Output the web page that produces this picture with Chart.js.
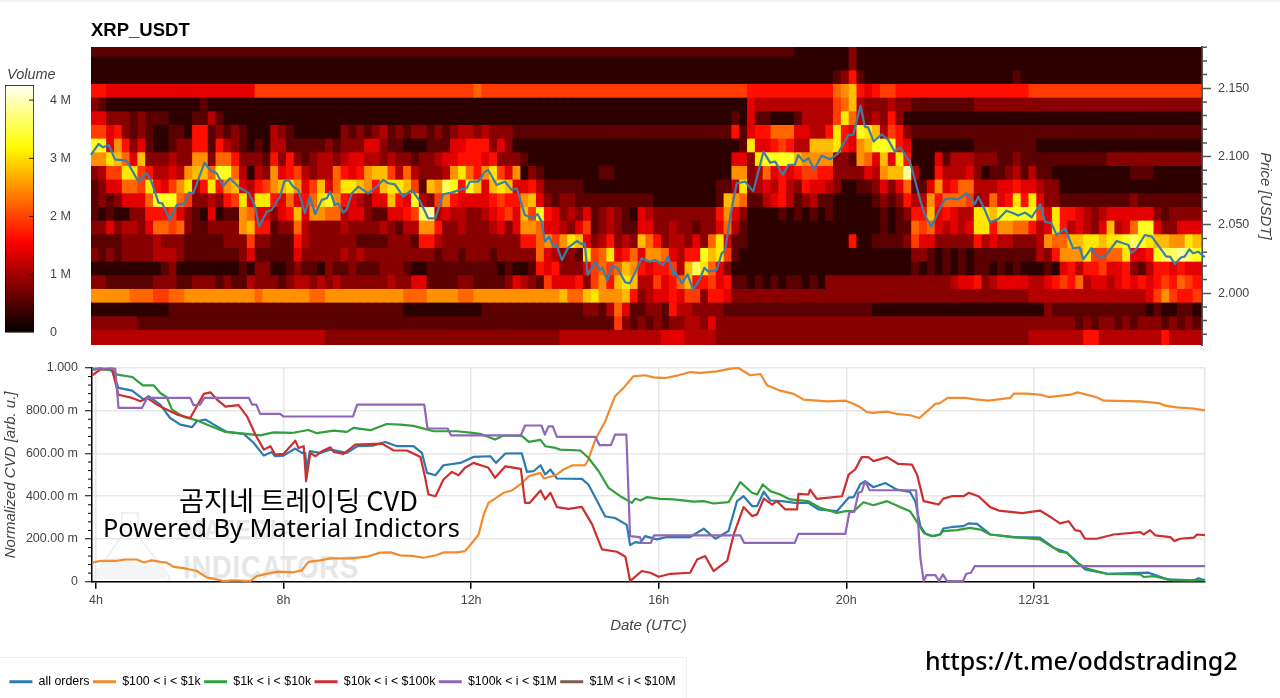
<!DOCTYPE html>
<html>
<head>
<meta charset="utf-8">
<title>XRP_USDT</title>
<script src="https://cdn.jsdelivr.net/npm/chart.js@4/dist/chart.umd.min.js"></script>
<style>
html, body { margin: 0; padding: 0; background: #fff; }
body { width: 1280px; height: 698px; position: relative; overflow: hidden; font-family: "Liberation Sans", sans-serif; }
canvas { position: absolute; }
.label { position: absolute; white-space: nowrap; line-height: 1; }
#topLine { position: absolute; left: 0; top: 0; width: 1280px; height: 2px; background: #f0f0f0; }
#legendBox { position: absolute; left: -2px; top: 657px; width: 687px; height: 60px; border: 1px solid #f0f0f0; }
#title { left: 91px; top: 21px; font-size: 18.5px; font-weight: 700; color: #000; }
#volume { left: 7px; top: 67px; font-size: 14.5px; font-style: italic; color: #444; }
#wmTop { left: 183px; top: 514px; font: 700 28px "Liberation Sans", sans-serif; color: #e8e8e8; letter-spacing: 1px; transform: scaleX(.85); transform-origin: left; }
#wmBottom { left: 183px; top: 550px; font: 700 31px "Liberation Sans", sans-serif; color: #e6e6e6; letter-spacing: 1px; transform: scaleX(.88); transform-origin: left; }
#flask { position: absolute; left: 92px; top: 510px; }
#noteKo { left: 179px; top: 479px; font: 400 27.2px "Noto Sans CJK KR", sans-serif; color: #000; }
#noteEn { left: 103px; top: 510px; font: 400 25.3px "Noto Sans", sans-serif; color: #000; }
#url { left: 925px; top: 643px; font: 500 25px "Noto Sans", sans-serif; color: #000; }
</style>
</head>
<body>
<div id="topLine"></div>
<div id="legendBox"></div>
<svg id="flask" width="80" height="74">
  <path d="M30 3 H46 V26 L77 66 Q79 72 72 72 H6 Q-1 72 2 66 L30 26 Z" fill="none" stroke="#f0f0f0" stroke-width="2"/>
  <path d="M8 56 Q22 42 38 50 Q54 58 70 52 L75 66 Q76 69 72 69 H7 Q3 69 4 65 Z" fill="#f3f5f6"/>
</svg>
<div class="label" id="wmTop">MATERIAL</div>
<div class="label" id="wmBottom">INDICATORS</div>
<canvas id="volumeBar" width="90" height="290" style="left:0;top:60px;width:90px;height:290px"></canvas>
<canvas id="priceChart" width="1280" height="352" style="left:0;top:0;width:1280px;height:352px"></canvas>
<canvas id="cvdChart" width="1280" height="348" style="left:0;top:350px;width:1280px;height:348px"></canvas>
<div class="label" id="title">XRP_USDT</div>
<div class="label" id="volume">Volume</div>
<div class="label" id="noteKo">곰지네 트레이딩 CVD</div>
<div class="label" id="noteEn">Powered By Material Indictors</div>
<div class="label" id="url">https://t.me/oddstrading2</div>
<script>
// heatmap levels, one hex digit per 10 minute bin, top price row first
const heatRows = [
"2222222222 2222222222 2222222222 2222222222 2222222222 2222222222 2222222222 2222222222 2222222222 1111111311 1111111111 1111111111 1111111111 1111111111 11",
"1111111111 1111111111 1111111111 1111111111 1111111111 1111111111 1111111111 1111111111 1111111111 1111111311 1111111111 1111111111 1111111111 1111111111 11",
"1111111111 1111111111 1111111111 1111111111 1111111111 1111111111 1111111111 1111111111 1111111111 1111123621 1111111111 1111111121 1111111111 1111111111 11",
"6655555555 5555555555 5777777777 7777777777 7777777778 7777777777 7777777777 7777777777 7777666666 6666689a65 6776666666 6666666666 7777777777 7777777777 77",
"3211111111 1111211111 1111111111 1111111111 1111111111 1111111111 1111111111 1111111111 1111544444 44444 78a43 3343322222 2223333333 3333333333 3333333333 33",
"5533323222 1112242111 1111111111 1111111111 1111111111 1111111111 1111111111 1111111111 1121522111 244447b843 4363111111 1111111111 1111111111 1111111111 11",
"7756323211 2216623232 1114321111 1132323423 2332323443 4333222222 2222222222 2222222222 2262566888 55446b65cb a476322222 2222222222 2222222222 2222222222 22",
"cc59635211 2336626432 1214422222 3233355322 1112225566 6353111111 1111111111 1111111111 1112b55676 44aaab659a ccc6511111 1112222222 2111111111 1111111111 11",
"99ba85a333 4339938863 3326363234 4345544343 3233455666 5633321111 1111111111 1111111111 11553bcccc a999933298 5a5b611152 4443332232 2222222222 3333333333 33",
"3477bb7644 549aa8cc84 1439567434 486569aa74 8433349b86 9b75913211 1111122111 1111111111 1199348565 6776633335 49aae41164 4453122342 4221111111 1112221111 11",
"2355887b65 79b46b69a5 4679ab957a 58bba96abb a72a9dc6ca 5aba556422 2221111111 1111111111 224b345464 3655431122 3535822595 6884445565 5433111111 1111111111 11",
"2323555 8cc c87334 367b 5bb658568b c965435 5a6 5c43796555 567669a532 3322222222 2211111111 2a98224564 2342211111 2323644968 8873485 6b6 b533222222 2223222222 22",
"2121133666 7532151229 855356a599 8845532255 67de454433 45675a7c65 3435234321 5433333333 6953111121 2121211111 1212366a56 544bbacccc c75b665434 5555553233 33",
"3353443588 7832233339 a662338433 3343333432 4499633433 3453599855 4357234322 5533433233 5842111111 1111111111 1212287854 545bb69988 645b645435 a458cc5335 55",
"2222333343 3322222333 7332226433 3333222233 3266433333 3333366897 9ba5346343 a863443538 b522111111 1111111611 2222375533 3336454433 34988aabba bbcdcbaa99 ba",
"3232333344 4322222223 5222225333 3343433333 3333233233 3233333854 332b78b568 59985466ca b721111111 1111111111 1111133212 1212222222 2436999b77 88b556cdde dc",
"1111111112 3111111112 1331123221 3223222333 2112222222 2212112656 3335787 8a9 656674adb8 5311111111 1111111111 1111121212 1212212121 1121564667 5563246656 55",
"3322222233 3223332322 4333234434 3433333343 3552222332 2223543275 5563796aba 447568a667 5622121212 2121333333 3333333333 4556345555 4456768455 4565656768 76",
"9999988877 8899999999 9899999988 9999999999 8889999889 9999999999 a88ab99 9a6 3455657736 6533333333 3333333333 3333333333 3333333333 4444444444 4444457976 67",
"1111111111 2222222222 2222222222 2222222222 1111111111 2222222222 2223324852 2332644333 3222222222 2222222222 1111111111 1111111111 1132222222 2222212112 21",
"3333332222 2222222222 2222222222 2222222222 2222222222 2222222222 2222222732 3232334435 3333333333 3333333333 3333333333 3333333333 3333332323 3232333232 32",
"4444444444 4444444444 4444444444 3333333333 3333333333 3333333333 4444444444 4445554444 3333333333 3333333333 3333333333 3333333333 4444444664 4444444644 44",
"4444444444 4444444444 4444444444 3333333333 3333333333 3333333333 4444444444 4445554444 3333333333 3333333333 3333333333 3333333333 4444444664 4444444644 44"
];
const heatStartHour = 3.9;
const heatBinHours = 1 / 6;
const heatTopPrice = 2.1835;
const heatBinPrice = 0.01;
const volumePerLevel = 278000;
const maxVolume = 4300000;
const volumeBarTop = 4260000;

const priceLine = [[3.90,2.1012],[4.06,2.1092],[4.16,2.1068],[4.28,2.1085],[4.41,2.0980],[4.66,2.0970],[4.91,2.0817],[5.09,2.0878],[5.19,2.0817],[5.34,2.0663],[5.42,2.0658],[5.58,2.0536],[5.73,2.0646],[5.90,2.0658],[5.99,2.0736],[6.08,2.0731],[6.32,2.0956],[6.44,2.0902],[6.58,2.0878],[6.72,2.0785],[6.86,2.0841],[7.08,2.0768],[7.26,2.0736],[7.40,2.0634],[7.48,2.0487],[7.65,2.0597],[7.75,2.0609],[7.93,2.0707],[8.02,2.0817],[8.11,2.0829],[8.21,2.0780],[8.32,2.0756],[8.46,2.0585],[8.57,2.0707],[8.68,2.0580],[8.82,2.0683],[8.93,2.0695],[9.00,2.0744],[9.10,2.0646],[9.17,2.0658],[9.28,2.0590],[9.35,2.0609],[9.46,2.0731],[9.60,2.0780],[9.81,2.0731],[9.99,2.0780],[10.13,2.0829],[10.24,2.0805],[10.38,2.0797],[10.56,2.0707],[10.74,2.0756],[10.92,2.0670],[11.09,2.0548],[11.24,2.0548],[11.41,2.0724],[11.59,2.0736],[11.80,2.0761],[11.91,2.0768],[11.98,2.0817],[12.16,2.0817],[12.30,2.0890],
[12.37,2.0902],[12.55,2.0792],[12.73,2.0817],[12.87,2.0756],[12.98,2.0768],[13.15,2.0573],[13.33,2.0548],[13.42,2.0580],[13.51,2.0524],[13.58,2.0378],[13.67,2.0414],[13.76,2.0341],[13.83,2.0353],[13.94,2.0243],[14.08,2.0336],[14.26,2.0382],[14.36,2.0360],[14.43,2.0365],[14.49,2.0133],[14.66,2.0231],[14.75,2.0170],[14.80,2.0187],[14.91,2.0092],[15.00,2.0194],[15.12,2.0187],[15.29,2.0080],[15.39,2.0072],[15.64,2.0255],[15.82,2.0231],[15.93,2.0243],[16.10,2.0207],[16.21,2.0268],[16.32,2.0133],[16.35,2.0158],[16.50,2.0072],[16.62,2.0138],[16.74,2.0024],[16.89,2.0109],[16.98,2.0187],[17.06,2.0158],[17.24,2.0170],[17.35,2.0292],[17.42,2.0312],[17.53,2.0561],[17.67,2.0805],[17.85,2.0817],[18.02,2.0744],[18.24,2.1036],[18.38,2.0956],[18.49,2.0963],[18.65,2.0866],[18.77,2.0939],[18.91,2.0939],[18.98,2.1012],[19.09,2.0963],[19.20,2.0988],[19.32,2.0907],[19.48,2.1007],[19.66,2.0980],[19.83,2.1024],[20.05,2.1158],[20.15,2.1158],[20.31,2.1373],[20.40,2.1219],[20.47,2.1214],[20.59,2.1110],
[20.76,2.1163],[20.90,2.1122],[21.04,2.1036],[21.15,2.1068],[21.36,2.0963],[21.47,2.0829],[21.58,2.0683],[21.68,2.0573],[21.82,2.0487],[21.97,2.0597],[22.11,2.0687],[22.21,2.0695],[22.39,2.0687],[22.57,2.0731],[22.75,2.0653],[22.82,2.0707],[22.96,2.0609],[23.07,2.0517],[23.25,2.0543],[23.42,2.0604],[23.57,2.0585],[23.67,2.0568],[23.82,2.0590],[23.96,2.0556],[24.14,2.0651],[24.24,2.0524],[24.38,2.0512],[24.49,2.0426],[24.67,2.0475],[24.84,2.0329],[24.98,2.0336],[25.06,2.0248],[25.23,2.0329],[25.41,2.0255],[25.55,2.0280],[25.77,2.0382],[26.02,2.0353],[26.09,2.0292],[26.20,2.0329],[26.37,2.0426],[26.52,2.0414],[26.83,2.0268],[26.91,2.0268],[27.01,2.0214],[27.15,2.0263],[27.22,2.0268],[27.32,2.0321],[27.40,2.0292],[27.51,2.0304],[27.65,2.0263]];

const allOrdersCvd = [[3.92,.992],[4.09,.997],[4.34,.989],[4.48,.907],[4.77,.894],[5.02,.852],[5.12,.868],[5.37,.829],[5.58,.766],[5.80,.735],[6.05,.723],[6.15,.751],[6.33,.759],[6.58,.727],[6.79,.701],[7.15,.692],[7.36,.650],[7.58,.590],[7.75,.607],[7.82,.587],[8.00,.590],[8.25,.623],[8.39,.603],[8.46,.603],[8.50,.525],[8.56,.611],[8.78,.603],[9.00,.618],[9.35,.603],[9.57,.634],[9.92,.637],[10.17,.654],[10.42,.634],[10.77,.634],[10.95,.603],[11.06,.509],[11.24,.498],[11.41,.545],[11.77,.556],[12.05,.584],[12.41,.587],[12.53,.556],[12.73,.600],[13.08,.601],[13.19,.514],[13.33,.517],[13.48,.545],[13.58,.502],[13.69,.525],[13.83,.483],[14.36,.481],[14.50,.455],[14.65,.393],[14.86,.305],[15.07,.298],[15.32,.266],[15.39,.171],[15.50,.185],[15.61,.182],[15.71,.213],[15.96,.198],[16.17,.209],[16.67,.209],[16.96,.248],[17.21,.201],[17.49,.237],[17.67,.377],[17.81,.400],[17.99,.354],[18.10,.354],[18.24,.421],[18.38,.380],[18.63,.377],[18.91,.369],[19.19,.369],[19.41,.338],[19.80,.330],[20.05,.393],[20.16,.396],[20.30,.456],[20.40,.470],[20.58,.442],[20.83,.462],[21.08,.431],[21.36,.420],[21.47,.377],[21.58,.260],[21.69,.224],[21.86,.213],[22.00,.221],[22.07,.249],[22.29,.257],[22.50,.260],[22.61,.273],[22.79,.271],[23.07,.221],[23.57,.209],[24.13,.206],[24.42,.159],[24.70,.136],[25.09,.058],[25.56,.037],[26.27,.041],[26.45,.042],[26.84,.011],[27.41,.006],[27.51,.016],[27.65,.006]];
const cvd100to1k = [[3.92,.089],[4.09,.097],[4.41,.097],[4.63,.104],[4.87,.104],[5.02,.090],[5.19,.100],[5.37,.093],[5.51,.089],[5.66,.069],[5.90,.062],[6.15,.050],[6.37,.019],[6.51,.014],[6.72,.003],[6.94,.006],[7.29,.003],[7.43,.026],[7.58,.034],[7.89,.047],[8.21,.044],[8.39,.053],[8.53,.093],[8.78,.100],[9.00,.109],[9.42,.109],[9.78,.117],[10.06,.136],[10.28,.137],[10.49,.123],[10.74,.121],[10.99,.112],[11.27,.125],[11.41,.137],[11.70,.137],[11.87,.143],[12.02,.182],[12.16,.221],[12.27,.315],[12.37,.369],[12.51,.389],[12.69,.416],[12.87,.427],[13.05,.455],[13.23,.494],[13.48,.509],[13.55,.483],[13.80,.498],[13.97,.525],[14.15,.544],[14.43,.545],[14.50,.572],[14.65,.665],[14.86,.751],[15.07,.868],[15.25,.907],[15.46,.961],[15.71,.966],[15.89,.956],[16.14,.953],[16.39,.964],[16.67,.981],[16.89,.977],[17.24,.984],[17.53,.997],[17.70,1],[17.95,.966],[18.17,.972],[18.31,.919],[18.59,.894],[18.88,.879],[19.09,.852],[19.59,.844],[19.99,.847],[20.16,.832],[20.30,.816],[20.44,.794],[20.55,.790],[20.87,.796],[21.08,.785],[21.36,.779],[21.56,.766],[21.72,.797],[21.90,.832],[22.00,.836],[22.16,.860],[22.54,.860],[22.71,.854],[23.03,.847],[23.50,.860],[23.57,.880],[23.85,.880],[24.17,.874],[24.31,.864],[24.78,.875],[24.93,.886],[25.34,.863],[25.49,.847],[26.27,.844],[26.66,.836],[26.80,.824],[27.05,.816],[27.41,.810],[27.65,.802]];
const cvd1kto10k = [[3.92,.992],[4.09,.997],[4.34,.989],[4.45,.969],[4.77,.958],[5.00,.919],[5.23,.919],[5.37,.883],[5.51,.863],[5.62,.805],[5.87,.771],[6.15,.755],[6.40,.732],[6.76,.701],[7.15,.693],[7.50,.685],[7.79,.699],[8.18,.696],[8.53,.710],[8.71,.695],[9.07,.707],[9.35,.701],[9.49,.720],[9.85,.709],[10.20,.738],[10.49,.735],[10.77,.729],[11.20,.704],[11.70,.704],[11.98,.698],[12.19,.692],[12.51,.665],[12.69,.684],[13.08,.682],[13.23,.654],[13.48,.664],[13.58,.634],[13.80,.626],[13.90,.618],[14.33,.614],[14.50,.580],[14.72,.517],[14.93,.439],[15.18,.400],[15.43,.369],[15.50,.389],[15.61,.380],[15.75,.396],[16.03,.388],[16.32,.385],[16.74,.375],[16.96,.377],[17.17,.366],[17.49,.372],[17.74,.466],[17.99,.416],[18.10,.408],[18.22,.455],[18.38,.424],[18.59,.408],[18.80,.385],[19.19,.377],[19.44,.346],[19.80,.322],[19.99,.330],[20.16,.330],[20.37,.372],[20.58,.358],[20.87,.377],[21.15,.349],[21.36,.330],[21.54,.268],[21.65,.229],[21.82,.213],[22.00,.221],[22.07,.237],[22.36,.241],[22.64,.252],[22.86,.244],[23.07,.221],[23.57,.209],[24.13,.198],[24.42,.159],[24.56,.140],[24.70,.136],[24.92,.089],[25.13,.062],[25.56,.037],[26.27,.034],[26.34,.022],[26.55,.026],[26.98,.006],[27.65,.006]];
const cvd10kto100k = [[3.92,.966],[4.09,.992],[4.34,.997],[4.48,.875],[4.77,.860],[4.95,.844],[5.09,.860],[5.30,.829],[5.44,.813],[5.73,.782],[6.01,.766],[6.15,.821],[6.30,.879],[6.44,.886],[6.58,.852],[6.76,.819],[7.04,.826],[7.22,.774],[7.40,.688],[7.58,.618],[7.72,.634],[7.82,.595],[8.00,.598],[8.25,.660],[8.32,.626],[8.43,.634],[8.48,.470],[8.57,.603],[8.68,.587],[8.82,.611],[9.00,.629],[9.07,.607],[9.28,.598],[9.53,.642],[10.10,.646],[10.35,.614],[10.63,.614],[10.92,.583],[11.02,.486],[11.09,.408],[11.24,.400],[11.41,.478],[11.59,.514],[11.73,.498],[11.87,.533],[12.05,.556],[12.37,.533],[12.51,.486],[12.73,.540],[13.06,.528],[13.15,.369],[13.25,.369],[13.48,.427],[13.58,.385],[13.69,.416],[13.83,.349],[14.08,.341],[14.36,.350],[14.58,.268],[14.79,.151],[15.11,.140],[15.29,.117],[15.39,.003],[15.64,.050],[15.82,.042],[16.00,.023],[16.25,.037],[16.67,.042],[16.82,.104],[16.99,.120],[17.17,.050],[17.46,.097],[17.60,.221],[17.81,.349],[17.99,.307],[18.10,.315],[18.24,.389],[18.42,.361],[18.52,.377],[18.70,.338],[18.95,.338],[18.98,.411],[19.19,.408],[19.23,.431],[19.37,.388],[19.91,.400],[20.05,.501],[20.19,.525],[20.33,.583],[20.47,.583],[20.58,.564],[20.87,.583],[21.11,.551],[21.40,.548],[21.51,.501],[21.65,.377],[21.82,.369],[21.97,.361],[22.07,.389],[22.25,.400],[22.50,.400],[22.61,.416],[22.82,.400],[23.07,.349],[23.25,.333],[23.75,.321],[24.13,.333],[24.38,.299],[24.56,.273],[24.74,.283],[24.88,.241],[24.99,.237],[25.09,.201],[25.34,.201],[25.70,.221],[26.27,.232],[26.34,.221],[26.48,.241],[26.59,.217],[26.91,.209],[27.00,.190],[27.12,.201],[27.41,.206],[27.48,.221],[27.65,.218]];
const cvd100kto1m = [[3.92,.997],[4.41,.997],[4.48,.813],[4.98,.813],[5.09,.860],[6.01,.860],[6.08,.826],[6.22,.829],[6.31,.860],[7.26,.860],[7.33,.829],[7.42,.829],[7.50,.785],[7.93,.785],[8.00,.773],[9.48,.773],[9.57,.829],[11.00,.829],[11.07,.717],[11.50,.717],[11.57,.685],[13.06,.685],[13.15,.731],[13.50,.731],[13.57,.688],[13.65,.727],[13.74,.727],[13.83,.678],[14.65,.678],[14.74,.639],[14.98,.639],[15.07,.688],[15.31,.688],[15.39,.213],[15.60,.209],[15.64,.181],[15.83,.181],[15.90,.217],[17.74,.217],[17.82,.182],[18.90,.182],[18.98,.224],[19.98,.224],[20.07,.327],[20.17,.327],[20.26,.416],[20.33,.421],[20.40,.470],[20.50,.428],[21.49,.428],[21.54,.252],[21.58,.112],[21.65,.003],[21.71,.031],[21.90,.031],[21.98,.003],[22.06,.034],[22.15,.003],[22.49,.003],[22.56,.037],[22.66,.042],[22.74,.073],[27.65,.073]];
const cvd1mto10m = [];

const seriesNames = ['all orders', '$100 < i < $1k', '$1k < i < $10k', '$10k < i < $100k', '$100k < i < $1M', '$1M < i < $10M'];
const seriesColors = ['#2b7bb0', '#f28a2e', '#339e3c', '#cb2f30', '#9067b8', '#7d5a52'];
const seriesPoints = [allOrdersCvd, cvd100to1k, cvd1kto10k, cvd10kto100k, cvd100kto1m, cvd1mto10m];

const timeTicks = [4, 8, 12, 16, 20, 24, 27.65];
const timeTickLabels = ['4h', '8h', '12h', '16h', '20h', '12/31', ''];
const cvdTicks = [0, 0.2, 0.4, 0.6, 0.8, 1];
const cvdTickLabels = ['0', '200.00 m', '400.00 m', '600.00 m', '800.00 m', '1.000'];
const cvdMinorTicks = [.04,.08,.12,.16,.24,.28,.32,.36,.44,.48,.52,.56,.64,.68,.72,.76,.84,.88,.92,.96];
const priceTicks = [2, 2.05, 2.1, 2.15];
const priceMinorTicks = [1.97,1.98,1.99,2.01,2.02,2.03,2.04,2.06,2.07,2.08,2.09,2.11,2.12,2.13,2.14,2.16,2.17,2.18];
const volumeTicks = [0, 1000000, 2000000, 3000000, 4000000];
const volumeTickLabels = ['0', '1 M', '2 M', '3 M', '4 M'];

const textColor = '#444';
const axisFont = { family: '"Liberation Sans", sans-serif', size: 12.5 };
const titleFont = { family: '"Liberation Sans", sans-serif', size: 15, style: 'italic' };

function volumeColor(v) {
  const f = Math.min(v / maxVolume, 1);
  const r = Math.min(f / 0.365, 1);
  const g = Math.max(Math.min((f - 0.365) / 0.381, 1), 0);
  const b = Math.max(Math.min((f - 0.746) / 0.254, 1), 0);
  return 'rgb(' + Math.round(r * 255) + ',' + Math.round(g * 255) + ',' + Math.round(b * 255) + ')';
}

// short extra tick marks, the native ticks only come in one length
const tickMarks = {
  id: 'tickMarks',
  afterDraw(chart, args, opts) {
    if (!opts.values) return;
    const ctx = chart.ctx;
    const scale = chart.scales.y;
    const edge = opts.side === 'left' ? chart.chartArea.left : chart.chartArea.right;
    ctx.save();
    ctx.strokeStyle = opts.color;
    ctx.lineWidth = opts.width;
    ctx.beginPath();
    opts.values.forEach(v => {
      const py = scale.getPixelForValue(v);
      ctx.moveTo(edge, py);
      ctx.lineTo(edge + opts.dir * opts.length, py);
    });
    ctx.stroke();
    ctx.restore();
  }
};

// heatmap: one floating bar dataset per price row
const heatDatasets = heatRows.map((row, r) => {
  const levels = row.replace(/ /g, '').split('').map(d => parseInt(d, 16));
  const high = heatTopPrice - r * heatBinPrice;
  return {
    type: 'bar',
    order: 2,
    grouped: false,
    barPercentage: 1,
    categoryPercentage: 1,
    inflateAmount: 0.5,
    borderWidth: 0,
    data: levels.map((lv, i) => ({ x: heatStartHour + (i + 0.5) * heatBinHours, y: [high - heatBinPrice, high] })),
    backgroundColor: levels.map(lv => volumeColor(lv * volumePerLevel))
  };
});

new Chart(document.getElementById('priceChart'), {
  type: 'bar',
  data: {
    datasets: heatDatasets.concat([{
      type: 'line',
      order: 1,
      clip: false,
      data: priceLine.map(p => ({ x: p[0], y: p[1] })),
      borderColor: '#3c7ea8',
      borderWidth: 2.2,
      borderJoinStyle: 'round',
      pointRadius: 0,
      tension: 0
    }])
  },
  plugins: [tickMarks],
  options: {
    responsive: false,
    animation: false,
    events: [],
    layout: { padding: { left: 91, top: 47, right: 0, bottom: 7 } },
    plugins: {
      legend: { display: false },
      tooltip: { enabled: false },
      tickMarks: { values: priceMinorTicks, side: 'right', dir: 1, length: 5, color: '#555', width: 1.5 }
    },
    scales: {
      x: { type: 'linear', display: false, offset: false, min: 3.9, max: 27.59 },
      y: {
        position: 'right',
        min: 1.9621,
        max: 2.1802,
        afterFit(scale) { scale.width = 78; scale.paddingTop = 0; scale.paddingBottom = 0; },
        afterBuildTicks(scale) { scale.ticks = priceTicks.map(v => ({ value: v })); },
        border: { color: '#555', width: 2 },
        grid: { drawOnChartArea: false, tickLength: 9, tickColor: '#555', tickWidth: 1.5 },
        ticks: { color: textColor, font: axisFont, padding: 7, callback: v => v.toFixed(3) },
        title: { display: true, text: 'Price [USDT]', color: textColor, font: titleFont, padding: { top: 6, bottom: 0 } }
      }
    }
  }
});

new Chart(document.getElementById('cvdChart'), {
  type: 'line',
  data: {
    datasets: seriesPoints.map((pts, i) => ({
      label: seriesNames[i],
      order: seriesPoints.length - i,
      data: pts.map(p => ({ x: p[0], y: p[1] })),
      borderColor: seriesColors[i],
      backgroundColor: seriesColors[i],
      borderWidth: 2.2,
      borderJoinStyle: 'round',
      pointRadius: 0,
      tension: 0,
      clip: 3
    }))
  },
  plugins: [tickMarks],
  options: {
    responsive: false,
    animation: false,
    events: [],
    layout: { padding: { left: 6, top: 18, right: 75, bottom: 0 } },
    plugins: {
      tooltip: { enabled: false },
      tickMarks: { values: cvdMinorTicks, side: 'left', dir: -1, length: 4, color: '#000', width: 1 },
      legend: {
        position: 'bottom',
        align: 'start',
        onClick: null,
        labels: {
          boxWidth: 23,
          boxHeight: 3,
          padding: 3.4,
          color: '#333',
          font: { family: '"Liberation Sans", sans-serif', size: 12.4 },
          generateLabels: () => seriesNames.map((name, i) => ({
            text: name, fillStyle: seriesColors[i], strokeStyle: seriesColors[i], lineWidth: 0, datasetIndex: i, hidden: false
          }))
        }
      }
    },
    scales: {
      x: {
        type: 'linear',
        min: 3.915,
        max: 27.65,
        afterFit(scale) { scale.height = 90.5; },
        afterBuildTicks(scale) { scale.ticks = timeTicks.map(v => ({ value: v })); },
        border: { color: '#000', width: 1.5 },
        grid: {
          color: '#e8e8e8',
          lineWidth: 1.5,
          tickLength: 7,
          tickColor: c => (c.tick && c.tick.value > 27 ? 'transparent' : '#000')
        },
        ticks: {
          color: textColor,
          font: axisFont,
          padding: 4,
          autoSkip: false,
          maxRotation: 0,
          callback: (v, i) => timeTickLabels[i]
        },
        title: { display: true, text: 'Date (UTC)', color: textColor, font: titleFont, padding: { top: 0, bottom: 37 } }
      },
      y: {
        min: 0,
        max: 1,
        afterFit(scale) { scale.width = 86; },
        afterBuildTicks(scale) { scale.ticks = cvdTicks.map(v => ({ value: v })); },
        border: { color: '#000', width: 1.5 },
        grid: { color: '#e8e8e8', lineWidth: 1.5, tickLength: 7, tickColor: '#000', tickWidth: 1 },
        ticks: { color: textColor, font: axisFont, padding: 7, callback: (v, i) => cvdTickLabels[i] },
        title: { display: true, text: 'Normalized CVD [arb. u.]', color: textColor, font: titleFont, padding: { top: -4, bottom: 0 } }
      }
    }
  }
});

new Chart(document.getElementById('volumeBar'), {
  type: 'bar',
  data: {
    labels: ['Volume'],
    datasets: [{
      data: [[0, volumeBarTop]],
      barPercentage: 1,
      categoryPercentage: 1,
      borderColor: '#000',
      borderWidth: 1,
      borderSkipped: false,
      backgroundColor(c) {
        const area = c.chart.chartArea;
        if (!area) return '#000';
        const g = c.chart.ctx.createLinearGradient(0, area.bottom, 0, area.top);
        [0, 0.1, 0.2, 0.3, 0.365, 0.45, 0.55, 0.65, 0.746, 0.85, 1].forEach(s => {
          g.addColorStop(s, volumeColor(s * volumeBarTop));
        });
        return g;
      }
    }]
  },
  plugins: [tickMarks],
  options: {
    responsive: false,
    animation: false,
    events: [],
    layout: { padding: { left: 5, top: 25, right: 0, bottom: 17 } },
    plugins: {
      legend: { display: false },
      tooltip: { enabled: false },
      tickMarks: { values: volumeTicks.slice(1), side: 'right', dir: -1, length: 5, color: '#222', width: 1 }
    },
    scales: {
      x: { display: false },
      y: {
        position: 'right',
        min: 0,
        max: volumeBarTop,
        afterFit(scale) { scale.width = 56; scale.paddingTop = 0; scale.paddingBottom = 0; },
        afterBuildTicks(scale) { scale.ticks = volumeTicks.map(v => ({ value: v })); },
        border: { display: false },
        grid: { drawOnChartArea: false, drawTicks: false },
        ticks: { color: textColor, font: axisFont, padding: 16, callback: (v, i) => volumeTickLabels[i] }
      }
    }
  }
});
</script>
</body>
</html>
